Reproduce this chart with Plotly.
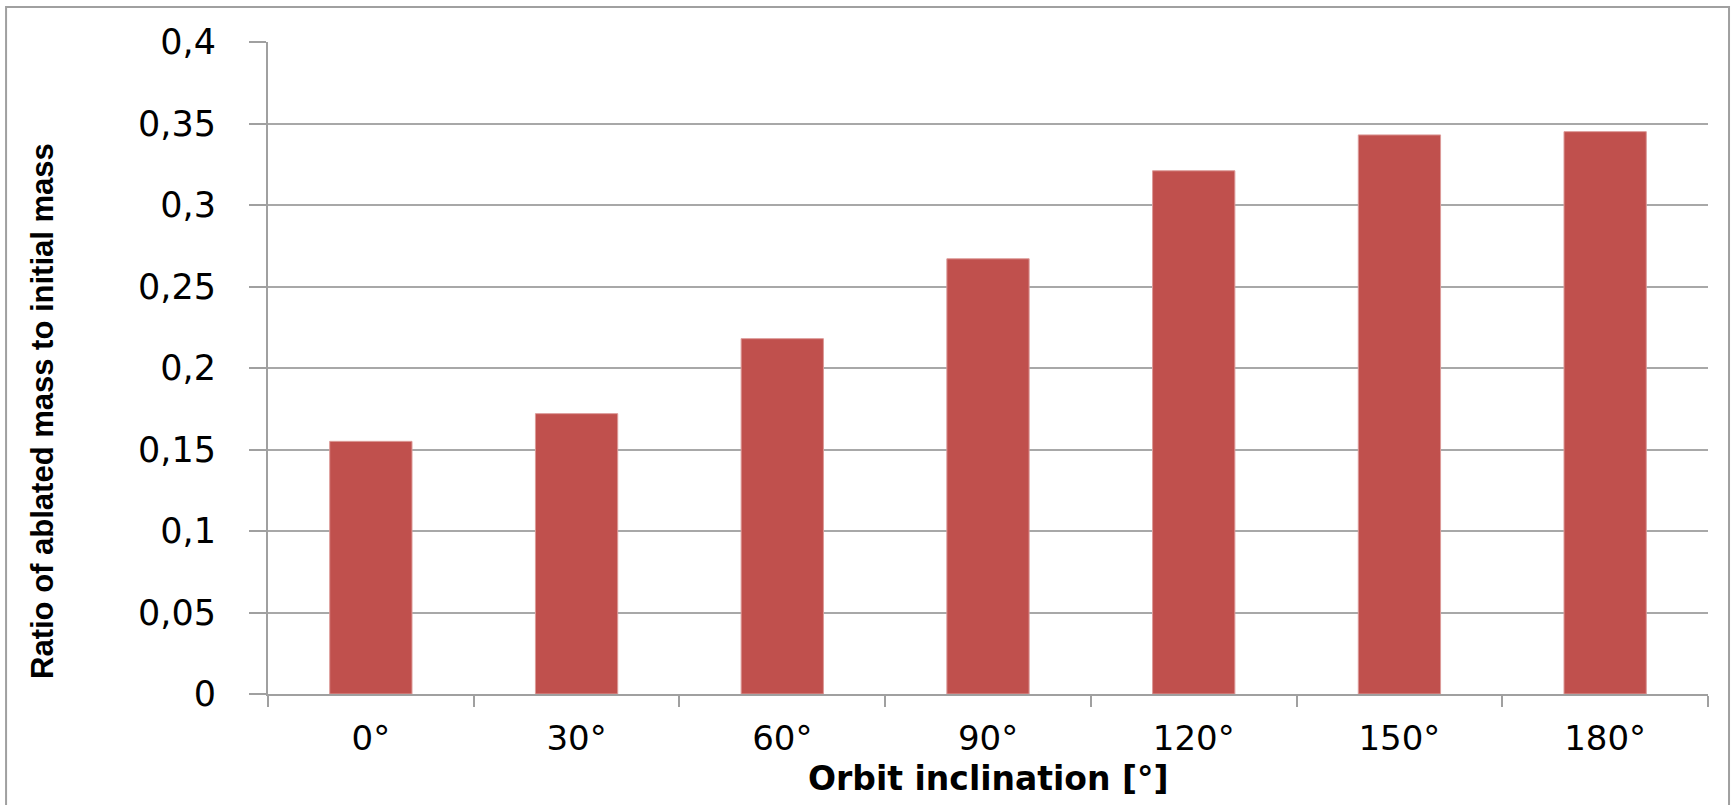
import plotly.graph_objects as go

# Orbit inclination categories and the ablated-mass ratio for each
inclinations = ["0°", "30°", "60°", "90°", "120°", "150°", "180°"]
ablated_ratio = [0.155, 0.172, 0.218, 0.267, 0.321, 0.343, 0.345]
y_ticks = [0, 0.05, 0.1, 0.15, 0.2, 0.25, 0.3, 0.35, 0.4]

x_title = "Orbit inclination [°]"
y_title = "Ratio of ablated mass to initial mass"

AXIS_GREY = "#a0a0a0"
GRID_GREY = "#a8a8a8"
BAR_RED = "#c0504d"

fig = go.Figure(
    go.Bar(
        x=inclinations,
        y=ablated_ratio,
        marker=dict(color=BAR_RED, line=dict(color="#dc9a98", width=1)),
        showlegend=False,
    )
)

fig.update_layout(
    width=1734,
    height=805,
    margin=dict(l=268, r=26, t=42, b=111),
    paper_bgcolor="white",
    plot_bgcolor="white",
    separators=", ",
    bargap=0.6,
    xaxis=dict(
        type="category",
        showline=True,
        linecolor=AXIS_GREY,
        linewidth=2,
        ticks="outside",
        ticklen=11,
        tickwidth=2,
        tickcolor=AXIS_GREY,
        tickson="boundaries",
        showgrid=False,
        tickfont=dict(family="DejaVu Sans", size=34, color="black"),
        ticklabelstandoff=13,
    ),
    yaxis=dict(
        range=[0, 0.4],
        tickvals=y_ticks,
        showline=True,
        linecolor=AXIS_GREY,
        linewidth=2,
        ticks="outside",
        ticklen=17,
        tickwidth=1.5,
        tickcolor=AXIS_GREY,
        showgrid=True,
        gridcolor=GRID_GREY,
        gridwidth=1.5,
        zeroline=False,
        tickfont=dict(family="DejaVu Sans", size=35, color="black"),
        ticklabelstandoff=26,
    ),
    annotations=[
        dict(
            text=x_title,
            xref="paper", yref="paper",
            x=0.5, y=-0.129,
            xanchor="center", yanchor="middle",
            showarrow=False,
            font=dict(family="DejaVu Sans", size=33, color="black", weight="bold"),
        ),
        dict(
            text=y_title,
            xref="paper", yref="paper",
            x=-0.157, y=0.434,
            xanchor="center", yanchor="middle",
            textangle=-90,
            showarrow=False,
            font=dict(family="Liberation Sans", size=31, color="black", weight="bold"),
        ),
    ],
    shapes=[
        dict(
            type="rect",
            xref="paper", yref="paper",
            x0=-0.1819, x1=1.0146, y0=-0.175, y1=1.0537,
            line=dict(color=AXIS_GREY, width=2),
            fillcolor="rgba(0,0,0,0)",
            layer="below",
        )
    ],
)

fig.write_html("out.html")
